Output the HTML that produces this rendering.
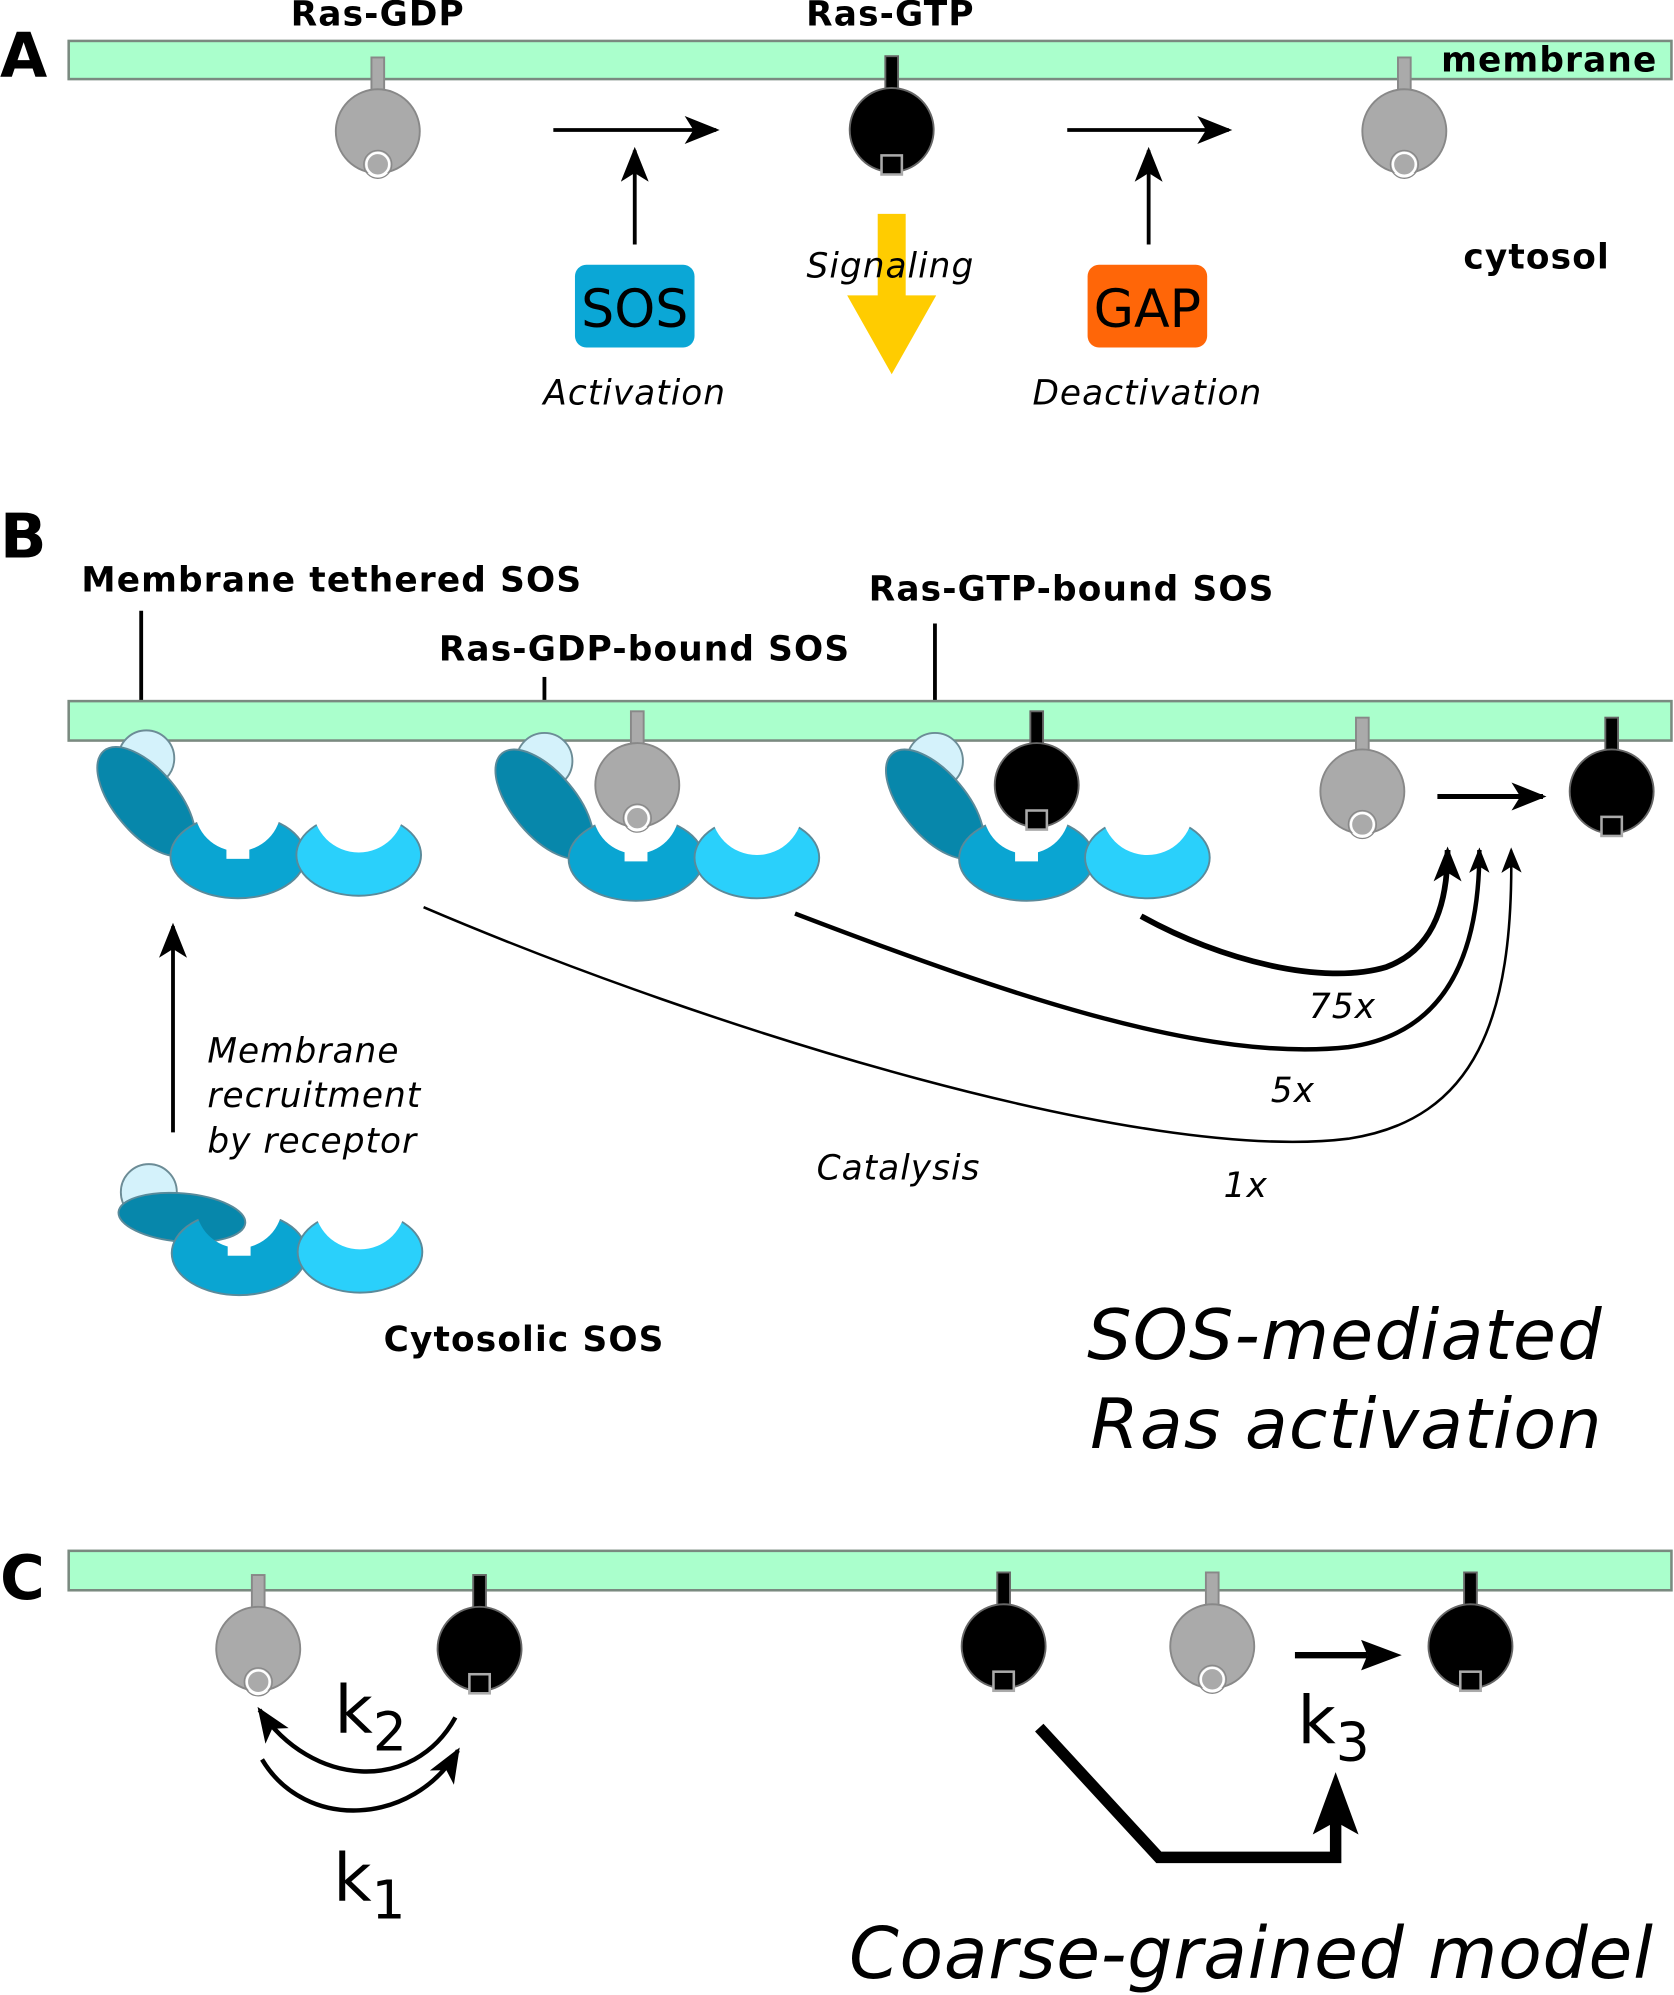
<!DOCTYPE html>
<html><head><meta charset="utf-8"><style>
html,body{margin:0;padding:0;background:#fff}
svg{display:block}
text{font-family:"DejaVu Sans","Liberation Sans",sans-serif}
.b{font-weight:bold;font-size:27px;letter-spacing:0.9px}
.i{font-style:italic;font-size:27px;letter-spacing:0.8px}
</style></head><body>
<svg width="1674" height="1995" viewBox="0 0 1316 1568" xmlns="http://www.w3.org/2000/svg">
<defs>
<marker id="ah" markerWidth="28" markerHeight="22" refX="9" refY="4" orient="auto" markerUnits="userSpaceOnUse" viewBox="0 0 10 8"><path d="M0,0 L10,4 L0,8 L2.5,4 Z" fill="#000"/></marker>
<marker id="ahs" markerWidth="20" markerHeight="16" refX="9" refY="4" orient="auto" markerUnits="userSpaceOnUse" viewBox="0 0 10 8"><path d="M0,0 L10,4 L0,8 L2.5,4 Z" fill="#000"/></marker>
<g id="rasgdp">
<rect x="-5" y="-58" width="10" height="30" fill="#aaa" stroke="#888" stroke-width="1.5"/>
<circle r="33" fill="#aaa" stroke="#888" stroke-width="1.5"/>
<circle cy="26" r="9" fill="#aaa" stroke="#fff" stroke-width="2"/>
<circle cy="26" r="11" fill="none" stroke="#888" stroke-width="1"/>
</g>
<g id="rasgtp">
<rect x="-5" y="-58" width="10" height="30" fill="#000" stroke="#666" stroke-width="1.5"/>
<circle r="33" fill="#000" stroke="#666" stroke-width="1.5"/>
<rect x="-8" y="20" width="16" height="15" fill="#000" stroke="#aaa" stroke-width="2"/>
</g>
<mask id="mmid" maskUnits="userSpaceOnUse" x="-200" y="-200" width="400" height="400"><rect x="-200" y="-200" width="400" height="400" fill="#fff"/><circle cx="0" cy="-38" r="34" fill="#000"/><rect x="-9" y="-12" width="18" height="14" fill="#000"/></mask>
<mask id="mright" maskUnits="userSpaceOnUse" x="-200" y="-200" width="400" height="400"><rect x="-200" y="-200" width="400" height="400" fill="#fff"/><circle cx="0" cy="-38" r="36" fill="#000"/></mask>
<g id="sosparts">
<g transform="translate(72,77)"><ellipse rx="53" ry="33" fill="#0aa5d2" stroke="#5a8a9a" stroke-width="1.5" mask="url(#mmid)"/></g>
<g transform="translate(167,76)"><ellipse rx="49" ry="32" fill="#2ad0fb" stroke="#5a8a9a" stroke-width="1.5" mask="url(#mright)"/></g>
</g>
<g id="sosmem">
<circle r="22" fill="#d4f2fb" stroke="#6c8c96" stroke-width="1.5"/>
<ellipse cx="0" cy="34" rx="52" ry="25" transform="rotate(50 0 34)" fill="#0787ab" stroke="#5a8a9a" stroke-width="1.5"/>
<use href="#sosparts"/>
</g>
</defs>

<!-- Panel A -->
<text x="0" y="60" font-size="48" font-weight="bold">A</text>
<rect x="54" y="32" width="1260" height="30" fill="#aaffcc" stroke="#7a8a80" stroke-width="2"/>
<text class="b" x="1303" y="56" text-anchor="end">membrane</text>
<text class="b" x="297" y="20" text-anchor="middle">Ras-GDP</text>
<text class="b" x="700" y="20" text-anchor="middle">Ras-GTP</text>
<use href="#rasgdp" x="297" y="103"/>
<use href="#rasgtp" x="701" y="102"/>
<use href="#rasgdp" x="1104" y="103"/>
<line x1="435" y1="102" x2="563" y2="102" stroke="#000" stroke-width="3" marker-end="url(#ah)"/>
<line x1="839" y1="102" x2="966" y2="102" stroke="#000" stroke-width="3" marker-end="url(#ah)"/>
<line x1="499" y1="192" x2="499" y2="118" stroke="#000" stroke-width="3" marker-end="url(#ah)"/>
<line x1="903" y1="192" x2="903" y2="118" stroke="#000" stroke-width="3" marker-end="url(#ah)"/>
<rect x="452" y="208" width="94" height="65" rx="9" fill="#0ba7d6"/>
<text x="499" y="257" font-size="41" text-anchor="middle">SOS</text>
<rect x="855" y="208" width="94" height="65" rx="9" fill="#ff6608"/>
<text x="902" y="257" font-size="41" text-anchor="middle">GAP</text>
<polygon points="690,168 712,168 712,232 736,232 701,294 666,232 690,232" fill="#ffcc00"/>
<text class="i" x="700" y="218" text-anchor="middle">Signaling</text>
<text class="i" x="499" y="318" text-anchor="middle">Activation</text>
<text class="i" x="902" y="318" text-anchor="middle">Deactivation</text>
<text class="b" x="1208" y="211" text-anchor="middle">cytosol</text>

<!-- Panel B -->
<text x="0" y="438" font-size="48" font-weight="bold">B</text>
<text class="b" x="64" y="465">Membrane tethered SOS</text>
<text class="b" x="345" y="519">Ras-GDP-bound SOS</text>
<text class="b" x="683" y="472">Ras-GTP-bound SOS</text>
<line x1="111" y1="480" x2="111" y2="572" stroke="#000" stroke-width="3"/>
<line x1="428" y1="532" x2="428" y2="570" stroke="#000" stroke-width="3"/>
<line x1="735" y1="490" x2="735" y2="570" stroke="#000" stroke-width="3"/>
<rect x="54" y="551" width="1260" height="31" fill="#aaffcc" stroke="#7a8a80" stroke-width="2"/>
<use href="#sosmem" x="115" y="596"/>
<use href="#sosmem" x="428" y="598"/>
<use href="#rasgdp" x="501" y="617"/>
<use href="#sosmem" x="735" y="598"/>
<use href="#rasgtp" x="815" y="617"/>
<use href="#rasgdp" x="1071" y="622"/>
<use href="#rasgtp" x="1267" y="622"/>
<line x1="1130" y1="626" x2="1213" y2="626" stroke="#000" stroke-width="4" marker-end="url(#ah)"/>
<path d="M897,720 C960,755 1040,775 1090,760 C1130,745 1138,705 1138,668" fill="none" stroke="#000" stroke-width="4.5" marker-end="url(#ah)"/>
<path d="M625,718 C800,785 950,835 1060,823 C1140,812 1163,745 1163,668" fill="none" stroke="#000" stroke-width="3.5" marker-end="url(#ahs)"/>
<path d="M333,713 C560,810 900,915 1060,895 C1160,880 1190,800 1188,668" fill="none" stroke="#000" stroke-width="2" marker-end="url(#ahs)"/>
<text class="i" x="1029" y="800">75x</text>
<text class="i" x="999" y="866">5x</text>
<text class="i" x="962" y="941">1x</text>
<text class="i" x="642" y="927">Catalysis</text>
<line x1="136" y1="890" x2="136" y2="728" stroke="#000" stroke-width="3" marker-end="url(#ah)"/>
<text class="i" x="163" y="835">Membrane</text>
<text class="i" x="163" y="870">recruitment</text>
<text class="i" x="163" y="906">by receptor</text>
<g transform="translate(117,937)">
<circle r="22" fill="#d4f2fb" stroke="#6c8c96" stroke-width="1.5"/>
<ellipse cx="26" cy="20" rx="50" ry="19" transform="rotate(5 26 20)" fill="#0787ab" stroke="#5a8a9a" stroke-width="1.5"/>
<use href="#sosparts" x="-1" y="-29"/>
</g>
<text class="b" x="412" y="1062" text-anchor="middle">Cytosolic SOS</text>
<text x="1260" y="1068" font-size="55" font-style="italic" letter-spacing="0.9" text-anchor="end">SOS-mediated</text>
<text x="1260" y="1138" font-size="55" font-style="italic" letter-spacing="0.9" text-anchor="end">Ras activation</text>

<!-- Panel C -->
<text x="0" y="1257" font-size="48" font-weight="bold">C</text>
<rect x="54" y="1219" width="1260" height="31" fill="#aaffcc" stroke="#7a8a80" stroke-width="2"/>
<use href="#rasgdp" x="203" y="1296"/>
<use href="#rasgtp" x="377" y="1296"/>
<use href="#rasgtp" x="789" y="1294"/>
<use href="#rasgdp" x="953" y="1294"/>
<use href="#rasgtp" x="1156" y="1294"/>
<path d="M206,1383 C240,1440 325,1435 360,1376" fill="none" stroke="#000" stroke-width="3.5" marker-end="url(#ah)"/>
<path d="M358,1350 C325,1410 245,1405 204,1344" fill="none" stroke="#000" stroke-width="3.5" marker-end="url(#ah)"/>
<text x="263" y="1362" font-size="52">k<tspan font-size="42" dy="14">2</tspan></text>
<text x="262" y="1494" font-size="52">k<tspan font-size="42" dy="14">1</tspan></text>
<line x1="1018" y1="1301" x2="1075" y2="1301" stroke="#000" stroke-width="5"/>
<polygon points="1070,1289 1102,1301 1070,1313 1075,1301" fill="#000"/>
<text x="1020" y="1370" font-size="52">k<tspan font-size="42" dy="14">3</tspan></text>
<path d="M817,1358 L911,1460 L1050,1460 L1050,1420" fill="none" stroke="#000" stroke-width="9"/>
<polygon points="1050,1393 1068,1442 1050,1432 1032,1442" fill="#000"/>
<text x="1300" y="1555" font-size="56" font-style="italic" letter-spacing="0.6" text-anchor="end">Coarse-grained model</text>
</svg>
</body></html>
